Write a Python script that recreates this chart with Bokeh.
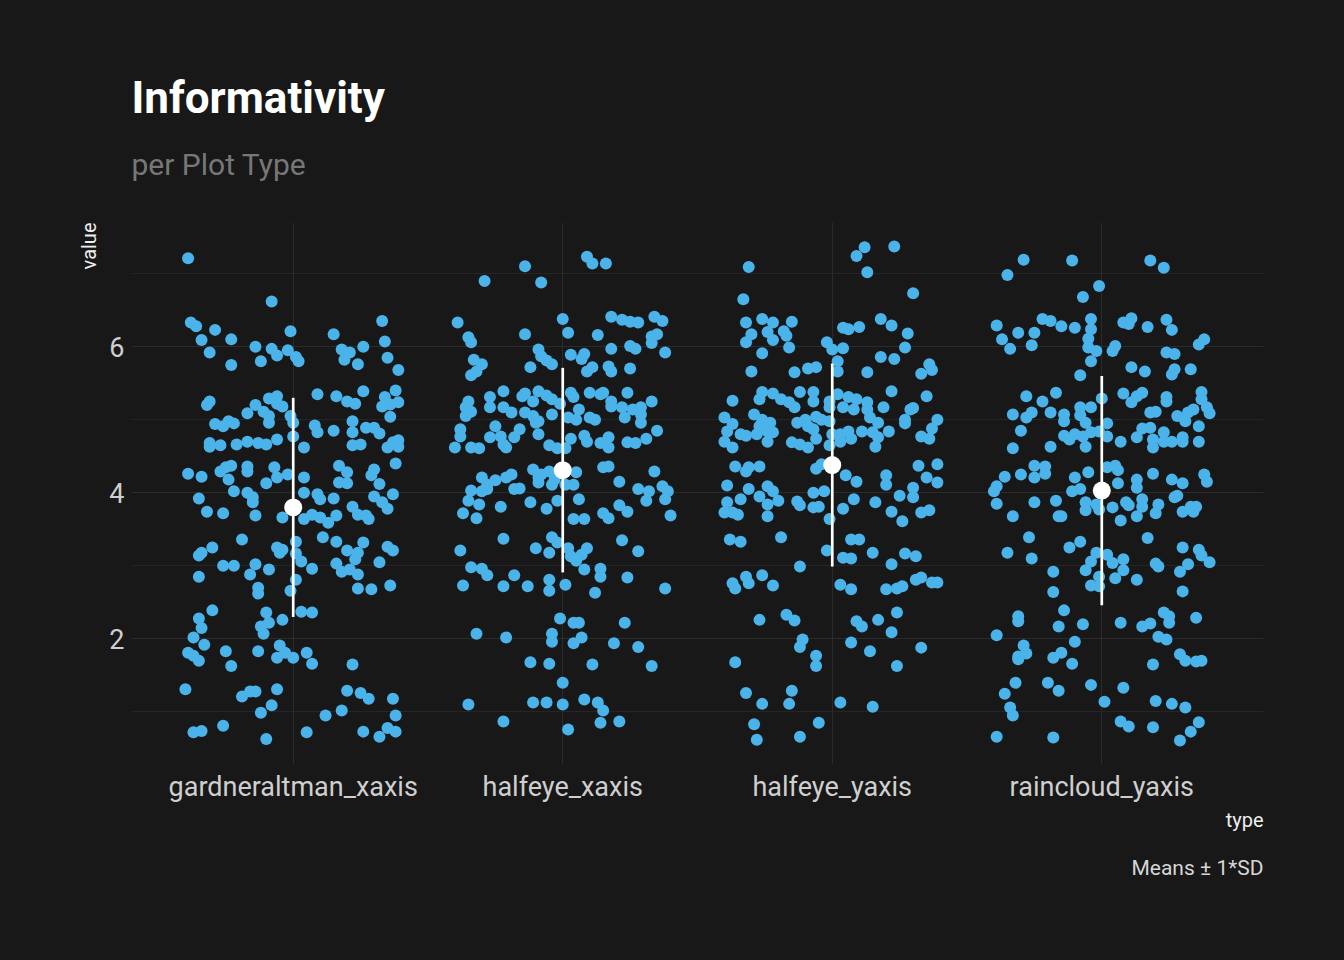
import numpy as np
from bokeh.plotting import figure
from bokeh.models import FixedTicker, Range1d, Title, GlobalInlineStyleSheet
from bokeh.embed import file_html
from bokeh.resources import INLINE

# categories on the x axis
plot_types = ["gardneraltman_xaxis", "halfeye_xaxis", "halfeye_yaxis", "raincloud_yaxis"]

# horizontal jitter (in category widths) and value of every point
gardneraltman_jitter = [
    -0.39, -0.08, -0.38, -0.36, -0.29, -0.34, -0.23, -0.31, -0.23, -0.14,
    -0.12, -0.08, -0.06, -0.01, -0.02, 0.01, 0.02, 0.15, 0.18, 0.21,
    0.19, 0.26, 0.24, 0.33, 0.34, 0.35, 0.39, 0.38, 0.09, 0.16,
    0.20, 0.23, 0.26, 0.34, 0.36, 0.39, 0.36, 0.33, -0.31, -0.32,
    -0.09, -0.06, -0.04, -0.06, -0.14, -0.11, -0.09, -0.09, -0.17, -0.01,
    0.00, -0.29, -0.26, -0.24, -0.22, 0.08, 0.09, 0.15, 0.22, 0.22,
    0.27, 0.30, 0.32, -0.31, -0.31, -0.27, -0.21, -0.17, -0.13, -0.10,
    -0.06, 0.00, 0.04, 0.22, 0.25, 0.35, 0.37, 0.39, 0.39, -0.39,
    -0.34, -0.27, -0.25, -0.23, -0.24, -0.17, -0.17, -0.07, -0.06, -0.02,
    -0.10, 0.04, 0.17, 0.20, 0.17, 0.20, 0.30, 0.29, 0.32, 0.38,
    -0.35, -0.22, -0.17, -0.15, -0.15, -0.32, -0.26, -0.14, -0.04, 0.04,
    0.09, 0.10, 0.15, 0.04, 0.07, 0.10, 0.13, 0.16, 0.22, 0.24,
    0.27, 0.28, 0.30, 0.33, 0.35, 0.37, -0.19, -0.30, -0.34, -0.35,
    -0.26, -0.22, -0.16, -0.14, -0.09, -0.35, -0.06, -0.04, -0.05, 0.01,
    0.01, 0.03, 0.07, 0.11, 0.16, 0.20, 0.26, 0.24, 0.23, 0.16,
    0.18, 0.21, 0.35, 0.37, 0.32, 0.24, 0.01, -0.01, -0.13, -0.13,
    0.24, 0.29, 0.36, -0.30, -0.35, -0.34, -0.10, -0.09, -0.12, -0.11,
    -0.04, 0.03, 0.07, -0.37, -0.33, -0.39, -0.37, -0.35, -0.25, -0.23,
    -0.13, -0.05, -0.03, -0.06, 0.00, 0.05, 0.07, 0.22, -0.40, -0.19,
    -0.16, -0.14, -0.06, -0.08, -0.12, 0.20, 0.25, 0.28, 0.37, 0.38,
    0.18, 0.12, -0.26, -0.37, -0.34, -0.10, 0.05, 0.26, 0.32, 0.35,
    0.38,
]
gardneraltman_value = [
    7.21, 6.62, 6.33, 6.28, 6.23, 6.09, 6.10, 5.92, 5.75, 6.00,
    5.80, 5.97, 5.88, 6.21, 5.95, 5.86, 5.80, 6.17, 5.96, 5.92,
    5.82, 6.00, 5.76, 6.35, 6.07, 5.85, 5.68, 5.40, 5.35, 5.32,
    5.25, 5.22, 5.39, 5.31, 5.21, 5.24, 5.04, 5.18, 5.25, 5.20,
    5.29, 5.32, 5.18, 5.22, 5.20, 5.11, 5.05, 4.96, 5.09, 5.05,
    4.96, 4.94, 4.91, 4.98, 4.95, 4.92, 4.83, 4.85, 4.98, 4.83,
    4.89, 4.89, 4.81, 4.68, 4.63, 4.65, 4.66, 4.70, 4.68, 4.66,
    4.73, 4.77, 4.62, 4.65, 4.66, 4.62, 4.69, 4.72, 4.63, 4.26,
    4.22, 4.29, 4.35, 4.37, 4.18, 4.36, 4.29, 4.35, 4.21, 4.25,
    4.13, 4.21, 4.37, 4.28, 4.14, 4.13, 4.32, 4.24, 4.12, 4.40,
    3.92, 4.02, 4.00, 3.94, 3.87, 3.74, 3.72, 3.69, 3.66, 4.00,
    3.98, 3.91, 3.92, 3.64, 3.70, 3.66, 3.59, 3.69, 3.81, 3.70,
    3.69, 3.64, 3.95, 3.87, 3.78, 3.98, 3.36, 3.25, 3.18, 3.14,
    3.00, 3.00, 2.88, 3.02, 2.95, 2.85, 3.25, 3.22, 3.18, 3.33,
    3.17, 3.06, 2.96, 3.39, 3.33, 3.21, 3.32, 3.18, 3.09, 3.03,
    2.92, 2.95, 3.26, 3.21, 3.05, 2.88, 2.81, 2.66, 2.70, 2.62,
    2.69, 2.68, 2.73, 2.39, 2.28, 2.15, 2.36, 2.22, 2.17, 2.07,
    2.26, 2.37, 2.36, 2.02, 1.92, 1.81, 1.77, 1.70, 1.83, 1.63,
    1.83, 1.91, 1.81, 1.74, 1.74, 1.81, 1.66, 1.65, 1.31, 1.21,
    1.28, 1.28, 1.31, 1.09, 0.99, 1.29, 1.26, 1.18, 1.18, 0.95,
    1.02, 0.95, 0.81, 0.72, 0.74, 0.63, 0.72, 0.73, 0.66, 0.78,
    0.73,
]

halfeye_x_jitter = [
    0.09, 0.11, 0.16, -0.14, -0.29, -0.08, -0.39, 0.00, 0.18, 0.22,
    0.25, 0.28, 0.34, 0.37, -0.35, -0.34, -0.14, 0.02, 0.13, 0.33,
    0.35, 0.33, -0.09, -0.08, -0.06, -0.04, 0.03, 0.18, 0.25, 0.27,
    0.38, 0.08, 0.07, 0.09, 0.11, 0.17, 0.18, 0.25, -0.12, -0.33,
    -0.30, -0.32, -0.34, -0.22, -0.27, -0.27, -0.35, -0.36, -0.36, -0.34,
    -0.15, -0.14, -0.11, -0.09, -0.06, -0.04, -0.01, 0.03, 0.04, 0.10,
    0.14, 0.15, 0.18, 0.18, 0.22, 0.24, 0.26, 0.29, 0.29, 0.33,
    -0.22, -0.19, -0.14, -0.11, -0.09, -0.10, -0.04, 0.02, 0.06, 0.05,
    0.10, 0.12, 0.23, 0.29, -0.38, -0.38, -0.40, -0.25, -0.27, -0.23,
    -0.22, -0.21, -0.18, -0.16, -0.34, -0.31, -0.09, -0.05, -0.02, 0.01,
    0.03, 0.08, 0.09, 0.14, 0.17, 0.17, 0.24, 0.27, 0.31, 0.35,
    -0.30, -0.28, -0.25, -0.21, -0.19, -0.34, -0.30, -0.28, -0.18, -0.16,
    -0.11, -0.09, -0.08, -0.05, -0.03, -0.04, -0.09, 0.05, 0.01, 0.04,
    0.15, 0.17, 0.21, 0.34, 0.28, 0.32, 0.37, 0.39,
    -0.35, -0.31, -0.37, -0.32, -0.23, -0.12, -0.06, -0.02, 0.06, 0.04,
    0.08, 0.15, 0.17, 0.21, 0.24, 0.31, 0.38, 0.40, -0.22, -0.38,
    -0.10, -0.04, -0.02, -0.05, 0.02, 0.03, 0.05, 0.07, 0.09, 0.22,
    0.28, -0.34, -0.30, -0.28, -0.37, -0.22, -0.18, -0.13, -0.05, -0.05,
    0.01, 0.08, 0.14, 0.14, 0.12, 0.24, 0.38, -0.01, 0.04, 0.06,
    0.23, -0.32, -0.21, -0.04, -0.04, 0.04, 0.07, 0.19, 0.28, -0.12,
    -0.05, 0.11, 0.33, 0.00, -0.35, -0.11, -0.06, 0.00, 0.08, 0.13,
    0.15, -0.22, 0.14, 0.21, 0.02,
]
halfeye_x_value = [
    7.23, 7.14, 7.14, 7.10, 6.90, 6.88, 6.33, 6.38, 6.41, 6.37,
    6.34, 6.33, 6.41, 6.35, 6.13, 6.06, 6.17, 6.19, 6.16, 6.14,
    6.17, 6.05, 5.96, 5.87, 5.81, 5.76, 5.89, 5.97, 6.01, 5.97,
    5.92, 5.90, 5.83, 5.66, 5.72, 5.73, 5.66, 5.70, 5.72, 5.82,
    5.76, 5.66, 5.61, 5.39, 5.31, 5.17, 5.25, 5.17, 5.05, 5.11,
    5.32, 5.36, 5.25, 5.39, 5.33, 5.28, 5.22, 5.37, 5.31, 5.37,
    5.35, 5.37, 5.25, 5.18, 5.17, 5.37, 5.14, 5.17, 5.07, 5.25,
    5.17, 5.10, 5.10, 5.05, 4.98, 4.96, 5.07, 5.03, 5.14, 5.00,
    5.03, 5.00, 5.03, 4.96, 4.87, 4.77, 4.62, 4.91, 4.76, 4.77,
    4.66, 4.62, 4.76, 4.87, 4.62, 4.61, 4.80, 4.65, 4.61, 4.61,
    4.74, 4.78, 4.70, 4.68, 4.62, 4.76, 4.69, 4.68, 4.74, 4.85,
    4.21, 4.11, 4.17, 4.21, 4.25, 4.03, 4.02, 4.05, 4.05, 4.06,
    4.32, 4.21, 4.25, 4.29, 4.18, 4.11, 4.14, 4.28, 4.11, 4.11,
    4.35, 4.36, 4.15, 4.29, 4.05, 4.02, 4.09, 4.02,
    3.89, 3.84, 3.72, 3.65, 3.81, 3.87, 3.78, 3.89, 3.91, 3.64,
    3.64, 3.72, 3.65, 3.83, 3.74, 3.89, 3.91, 3.69, 3.37, 3.21,
    3.24, 3.39, 3.32, 3.18, 3.24, 3.13, 3.07, 3.15, 3.24, 3.35,
    3.20, 2.98, 2.96, 2.87, 2.73, 2.72, 2.87, 2.72, 2.81, 2.66,
    2.74, 2.95, 2.96, 2.85, 2.63, 2.84, 2.69, 2.28, 2.22, 2.22,
    2.22, 2.07, 2.02, 2.07, 1.96, 1.94, 2.02, 1.94, 1.89, 1.68,
    1.66, 1.65, 1.63, 1.40, 1.10, 1.13, 1.13, 1.10, 1.17, 1.13,
    1.02, 0.87, 0.85, 0.87, 0.76,
]

halfeye_y_jitter = [
    0.12, 0.09, 0.23, 0.13, -0.31, -0.33, 0.30, -0.32, -0.26, -0.22,
    -0.30, -0.32, -0.24, -0.22, -0.18, -0.15, -0.17, -0.16, -0.26, 0.04,
    0.06, 0.10, 0.18, 0.22, 0.28, 0.27, -0.02, 0.00, 0.04, 0.02,
    0.02, 0.18, 0.23, 0.36, 0.37, 0.33, 0.13, -0.30, -0.14, -0.09,
    -0.06, -0.37, -0.26, -0.27, -0.22, -0.19, -0.16, -0.14, -0.12, -0.07,
    -0.07, -0.01, -0.01, 0.02, 0.06, 0.09, 0.13, 0.13, 0.04, 0.08,
    0.19, 0.22, 0.35, 0.29, 0.30, -0.40, -0.37, -0.39, -0.40, -0.37,
    -0.29, -0.26, -0.27, -0.23, -0.24, -0.34, -0.32, -0.28, -0.22, -0.24,
    -0.13, -0.10, -0.09, -0.06, -0.04, -0.07, -0.01, 0.00, -0.15, -0.12,
    -0.09, -0.06, -0.01, 0.03, 0.06, 0.07, 0.03, 0.11, 0.15, 0.16,
    0.17, 0.21, 0.14, 0.17, 0.27, 0.27, 0.39, 0.37, 0.36, 0.33,
    -0.36, -0.32, -0.31, -0.27, -0.39, -0.31, -0.24, -0.22, -0.06, -0.04,
    0.05, 0.09, 0.20, 0.20, 0.32, 0.39, 0.35, 0.39, 0.30, -0.07,
    -0.03,
    -0.39, -0.34, -0.40, -0.35, -0.37, -0.27, -0.24, -0.20, -0.24, -0.13,
    -0.12, -0.07, -0.05, -0.01, 0.04, 0.08, 0.16, 0.22, 0.26, 0.25,
    0.30, 0.33, 0.36, -0.38, -0.34, -0.19, -0.02, 0.07, 0.10, 0.04,
    0.07, 0.15, 0.22, 0.27, 0.31, -0.12, -0.37, -0.36, -0.32, -0.31,
    -0.26, -0.22, 0.03, 0.07, 0.20, 0.24, 0.26, 0.31, 0.33, 0.37,
    0.39, -0.27, -0.17, -0.14, 0.09, 0.11, 0.17, 0.24, 0.22, -0.11,
    -0.12, 0.07, 0.14, 0.33, -0.36, -0.06, -0.06, 0.24, -0.32, -0.15,
    -0.16, -0.26, 0.03, 0.15, -0.29, -0.28, -0.05, -0.12,
]
halfeye_y_value = [
    7.36, 7.24, 7.37, 7.02, 7.09, 6.65, 6.73, 6.33, 6.38, 6.33,
    6.17, 6.06, 6.20, 6.09, 6.21, 6.34, 6.15, 5.99, 5.91, 6.26,
    6.24, 6.27, 6.38, 6.29, 6.18, 5.99, 6.06, 5.96, 5.98, 5.80,
    5.66, 5.86, 5.83, 5.76, 5.68, 5.63, 5.65, 5.66, 5.65, 5.70,
    5.72, 5.26, 5.38, 5.28, 5.36, 5.28, 5.24, 5.17, 5.38, 5.38,
    5.25, 5.25, 5.17, 5.35, 5.31, 5.28, 5.24, 5.14, 5.17, 5.14,
    5.17, 5.39, 5.32, 5.14, 5.16, 5.03, 4.94, 4.84, 4.70, 4.62,
    5.07, 5.00, 4.91, 4.96, 4.84, 4.80, 4.78, 4.80, 4.83, 4.70,
    4.96, 5.00, 4.91, 5.04, 5.00, 4.87, 4.98, 4.80, 4.69, 4.66,
    4.62, 4.74, 4.65, 4.80, 4.84, 4.74, 4.70, 4.84, 4.83, 4.63,
    4.76, 4.84, 5.03, 4.96, 5.00, 4.95, 5.00, 4.88, 4.74, 4.77,
    4.36, 4.29, 4.35, 4.36, 4.10, 4.05, 4.09, 4.02, 4.33, 4.39,
    4.24, 4.15, 4.24, 4.11, 4.37, 4.39, 4.21, 4.14, 4.07, 4.00,
    4.02,
    3.87, 3.91, 3.73, 3.70, 3.73, 3.95, 3.84, 3.89, 3.68, 3.88,
    3.83, 3.80, 3.81, 3.64, 3.78, 3.91, 3.87, 3.74, 3.61, 3.96,
    3.94, 3.73, 3.76, 3.36, 3.33, 3.39, 3.21, 3.36, 3.36, 3.11,
    3.10, 3.18, 3.02, 3.17, 3.13, 2.99, 2.76, 2.69, 2.85, 2.76,
    2.87, 2.73, 2.74, 2.68, 2.68, 2.69, 2.72, 2.81, 2.84, 2.77,
    2.77, 2.26, 2.33, 2.25, 2.24, 2.17, 2.26, 2.36, 2.09, 1.99,
    1.89, 1.95, 1.83, 1.88, 1.68, 1.77, 1.63, 1.63, 1.26, 1.29,
    1.11, 1.11, 1.13, 1.07, 0.83, 0.62, 0.85, 0.66,
]

raincloud_jitter = [
    -0.29, -0.35, -0.11, 0.18, 0.23, -0.01, -0.07, -0.39, -0.37, -0.34,
    -0.31, -0.25, -0.26, -0.22, -0.19, -0.15, -0.10, -0.04, -0.04, -0.05,
    -0.05, -0.02, 0.04, 0.05, -0.04, -0.08, 0.08, 0.11, 0.10, 0.17,
    0.24, 0.26, 0.24, 0.27, 0.36, 0.38, 0.11, 0.16, 0.26, 0.27,
    0.33, -0.28, -0.22, -0.17, -0.33, -0.28, -0.26, -0.19, -0.14, -0.14,
    -0.08, -0.08, -0.06, -0.04, 0.00, 0.08, 0.11, 0.15, 0.13, 0.18,
    0.20, 0.24, 0.24, 0.28, 0.31, 0.32, 0.34, 0.37, 0.37, 0.39,
    0.40, -0.30, -0.33, -0.19, -0.14, -0.12, -0.10, -0.07, -0.06, -0.04,
    -0.01, 0.02, 0.02, 0.07, 0.13, 0.15, 0.18, 0.19, 0.19, 0.23,
    0.23, 0.26, 0.30, 0.30, 0.36, 0.36, -0.25, -0.21, -0.21, -0.25,
    -0.30, -0.36, -0.10, -0.05, 0.02, 0.05, 0.06, 0.19, 0.13, 0.13,
    0.26, 0.30, 0.38, 0.39, -0.39, -0.40, -0.11, -0.08, 0.06, 0.28,
    -0.39, -0.33, -0.25, -0.17, -0.16, -0.15, -0.06, -0.06, -0.02, -0.01,
    0.04, 0.09, 0.10, 0.07, 0.13, 0.15, 0.15, 0.21, 0.20, 0.27,
    0.30, 0.33, 0.35, 0.34, -0.27, -0.35, -0.26, -0.12, -0.08, -0.02,
    -0.04, -0.06, 0.02, 0.04, 0.08, 0.08, 0.05, -0.01, -0.04, -0.01,
    0.13, 0.17, 0.20, 0.21, 0.30, 0.36, 0.37, 0.40, 0.32, 0.29,
    0.30, -0.18, -0.18, -0.31, -0.31, -0.14, -0.16, -0.07, -0.39, 0.07,
    0.15, 0.18, 0.23, 0.25, 0.25, 0.35, 0.21, 0.24, -0.10, -0.29,
    -0.28, -0.31, -0.31, -0.18, -0.15, -0.11, 0.19, 0.29, 0.31, 0.35,
    0.37, -0.32, -0.36, -0.20, -0.16, -0.04, 0.08, 0.01, 0.20, 0.26,
    0.31, -0.34, -0.33, 0.07, 0.10, 0.19, 0.36, 0.33, 0.29, -0.39,
    -0.18,
]
raincloud_value = [
    7.19, 6.98, 7.18, 7.18, 7.08, 6.83, 6.68, 6.29, 6.10, 5.97,
    6.19, 6.19, 6.02, 6.38, 6.35, 6.28, 6.26, 6.38, 6.24, 6.11,
    5.99, 5.94, 5.94, 6.01, 5.80, 5.61, 6.33, 6.39, 6.31, 6.27,
    6.37, 6.23, 5.92, 5.90, 6.03, 6.10, 5.72, 5.66, 5.62, 5.69,
    5.69, 5.32, 5.25, 5.37, 5.07, 5.03, 5.10, 5.10, 5.07, 4.98,
    5.17, 5.06, 4.96, 5.17, 5.29, 5.36, 5.24, 5.37, 5.32, 5.10,
    5.11, 5.31, 5.25, 5.05, 4.98, 5.10, 5.14, 5.38, 5.28, 5.17,
    5.09, 4.85, 4.61, 4.63, 4.78, 4.73, 4.80, 4.77, 4.63, 4.83,
    4.84, 4.95, 4.77, 4.70, 4.76, 4.88, 4.89, 4.73, 4.62, 4.83,
    4.70, 4.70, 4.76, 4.70, 4.91, 4.70, 4.37, 4.36, 4.26, 4.21,
    4.25, 4.22, 4.21, 4.28, 4.35, 4.37, 4.31, 4.26, 4.18, 4.07,
    4.18, 4.13, 4.25, 4.15, 4.09, 4.02, 4.02, 4.05, 4.13, 3.96,
    3.85, 3.68, 3.87, 3.89, 3.68, 3.68, 3.87, 3.76, 3.84, 3.77,
    3.80, 3.87, 3.83, 3.62, 3.68, 3.91, 3.81, 3.84, 3.72, 3.94,
    3.74, 3.81, 3.81, 3.74, 3.39, 3.18, 3.10, 3.25, 3.33, 3.18,
    3.06, 2.94, 3.15, 3.04, 3.09, 2.94, 2.83, 2.85, 2.73, 2.72,
    2.81, 3.38, 3.03, 2.99, 3.25, 3.22, 3.14, 3.05, 3.02, 2.92,
    2.65, 2.92, 2.64, 2.31, 2.24, 2.39, 2.17, 2.20, 2.05, 2.22,
    2.17, 2.21, 2.36, 2.31, 2.22, 2.29, 2.03, 1.99, 1.96, 1.91,
    1.80, 1.72, 1.76, 1.74, 1.81, 1.66, 1.65, 1.79, 1.70, 1.69,
    1.70, 1.40, 1.25, 1.40, 1.29, 1.37, 1.33, 1.14, 1.15, 1.11,
    1.06, 1.06, 0.95, 0.87, 0.80, 0.79, 0.86, 0.73, 0.61, 0.66,
    0.65,
]

# summary per plot type: means and standard deviations
group_means = [3.80, 4.31, 4.38, 4.03]
group_sds = [1.50, 1.40, 1.39, 1.57]

BG = "#181818"
POINT = "#4ab3ea"
FONT = "Roboto"

p = figure(
    width=1328,
    height=944,
    x_range=Range1d(0.4, 4.6),
    y_range=Range1d(0.28, 7.70),
    output_backend="svg",
    toolbar_location=None,
    min_border_left=131,
    min_border_right=65,
    min_border_top=222,
    min_border_bottom=180,
    background_fill_color=BG,
    border_fill_color=BG,
    outline_line_color=None,
)
p.stylesheets = [GlobalInlineStyleSheet(css="html, body { background-color: #181818; }")]

# jittered points, one group per plot type
groups = [
    (gardneraltman_jitter, gardneraltman_value),
    (halfeye_x_jitter, halfeye_x_value),
    (halfeye_y_jitter, halfeye_y_value),
    (raincloud_jitter, raincloud_value),
]
for i, (jit, vals) in enumerate(groups):
    assert len(jit) == len(vals)
    xs = np.array(jit) + i + 1
    p.scatter(xs, vals, size=12, fill_color=POINT, line_color=None)

# mean +/- 1 SD
cx = np.arange(1, len(plot_types) + 1)
means = np.array(group_means)
sds = np.array(group_sds)
p.segment(x0=cx, y0=means - sds, x1=cx, y1=means + sds, line_color="white", line_width=2.7)
p.scatter(cx, means, size=18, fill_color="white", line_color=None)

# axes
xticker = FixedTicker(ticks=list(cx))
yticker = FixedTicker(ticks=[2, 4, 6], minor_ticks=[1, 3, 5, 7])
p.xaxis.ticker = xticker
p.yaxis.ticker = yticker
p.xgrid.ticker = xticker
p.ygrid.ticker = yticker
p.xaxis.major_label_overrides = {int(c): t for c, t in zip(cx, plot_types)}

for ax in (p.xaxis, p.yaxis):
    ax.axis_line_color = None
    ax.major_tick_line_color = None
    ax.minor_tick_line_color = None
    ax.major_label_text_font = FONT
    ax.major_label_text_font_size = "27px"
    ax.major_label_text_color = "#cfcfcf"
p.xaxis.major_label_standoff = 0
p.yaxis.major_label_standoff = 1

p.xgrid.grid_line_color = "#2b2b2b"
p.ygrid.grid_line_color = "#2b2b2b"
p.ygrid.minor_grid_line_color = "#252525"

# titles and axis titles as side panels
def side_title(text, side, size, color, align="left", style="normal", standoff=0):
    t = Title(text=text, align=align, text_font=FONT, text_font_size=size,
              text_color=color, text_font_style=style, standoff=standoff)
    p.add_layout(t, side)

# empty gap between the plot and the subtitle
side_title(" ", "above", "10px", BG, standoff=26)
side_title("per Plot Type", "above", "30px", "#777777", standoff=4)
side_title("Informativity", "above", "44px", "#ffffff", style="bold", standoff=38)
side_title("value", "left", "20px", "#eeeeee", align="right", standoff=12)
side_title("type", "below", "20px", "#eeeeee", align="right", standoff=0)
side_title("Means ± 1*SD", "below", "21px", "#d6d6d6", align="right", standoff=44)

open("out.html", "w").write(file_html(p, INLINE))
